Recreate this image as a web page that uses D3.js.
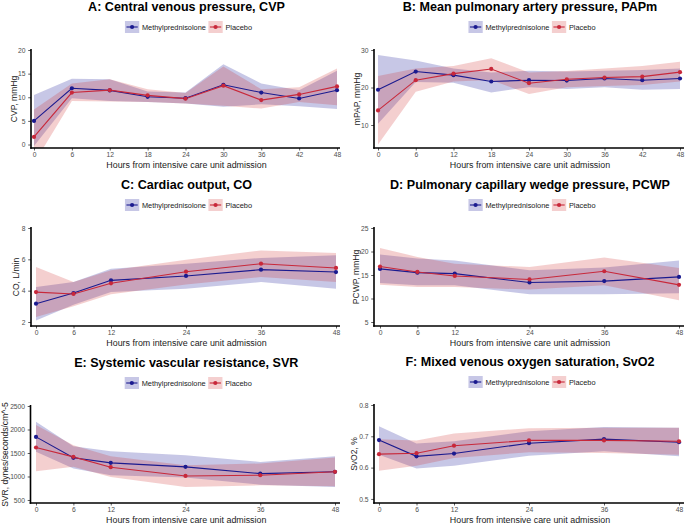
<!DOCTYPE html>
<html>
<head>
<meta charset="utf-8">
<script src="https://cdn.jsdelivr.net/npm/d3@7"></script>
<style>
html,body{margin:0;padding:0;background:#fff;}
svg{display:block;font-family:"Liberation Sans",Arial,sans-serif;}
</style>
</head>
<body>
<svg id="chart" width="685" height="524"></svg>
<script>
// ---------- data ----------
const hours9 = [0, 6, 12, 18, 24, 30, 36, 42, 48];
const hours6 = [0, 6, 12, 24, 36, 48];
const ticks9 = [0, 6, 12, 18, 24, 30, 36, 42, 48];
const ticks6 = [0, 6, 12, 24, 36, 48];
const seriesNames = ["Methylprednisolone", "Placebo"];

// A: CVP
const cvpMethyl    = [5.0, 11.9, 11.45, 10.1, 9.8, 12.65, 11.0, 9.75, 11.5];
const cvpMethylLo  = [-0.3, 9.8, 9.2, 9.0, 8.7, 8.0, 8.5, 8.1, 7.5];
const cvpMethylHi  = [10.5, 13.9, 13.8, 11.2, 11.0, 17.0, 12.9, 11.5, 15.6];
const cvpPlacebo   = [1.6, 11.0, 11.5, 10.4, 9.7, 12.45, 9.4, 10.6, 12.3];
const cvpPlaceboLo = [-4.0, 9.2, 9.1, 9.0, 8.7, 8.2, 7.6, 9.0, 8.3];
const cvpPlaceboHi = [7.4, 12.9, 13.8, 11.7, 10.9, 16.5, 11.7, 12.1, 16.1];
const cvpTicks = [0, 5, 10, 15, 20];

// B: PAPm
const papMethyl    = [19.4, 24.25, 23.3, 21.6, 21.95, 21.85, 22.4, 21.95, 22.4];
const papMethylLo  = [10.35, 21.5, 21.3, 18.7, 20.1, 19.6, 20.1, 19.4, 19.6];
const papMethylHi  = [28.7, 27.2, 25.1, 24.0, 24.5, 24.25, 24.5, 24.7, 25.1];
const papPlacebo   = [13.9, 21.95, 23.7, 24.95, 21.15, 22.2, 22.65, 22.9, 24.1];
const papPlaceboLo = [4.8, 18.9, 21.6, 22.0, 18.3, 20.1, 20.4, 20.7, 21.6];
const papPlaceboHi = [23.1, 25.1, 25.75, 27.8, 24.0, 24.4, 25.1, 25.75, 26.9];
const papTicks = [10, 20, 30];

// C: CO
const coMethyl    = [3.17, 3.85, 4.66, 4.94, 5.34, 5.19];
const coMethylLo  = [2.1, 3.1, 3.91, 4.13, 4.55, 4.13];
const coMethylHi  = [4.23, 4.55, 5.4, 5.72, 6.09, 6.26];
const coPlacebo   = [3.91, 3.79, 4.47, 5.21, 5.72, 5.45];
const coPlaceboLo = [2.32, 3.0, 3.77, 4.4, 4.87, 4.55];
const coPlaceboHi = [5.51, 4.55, 5.3, 5.98, 6.57, 6.4];
const coTicks = [2, 4, 6, 8];

// D: PCWP
const pcwpMethyl    = [16.3, 15.5, 15.3, 13.4, 13.7, 14.6];
const pcwpMethylLo  = [13.3, 12.8, 12.8, 10.9, 10.9, 11.1];
const pcwpMethylHi  = [19.35, 18.5, 18.1, 16.0, 16.6, 18.1];
const pcwpPlacebo   = [16.8, 15.65, 14.8, 14.05, 15.8, 12.9];
const pcwpPlaceboLo = [12.95, 12.45, 12.45, 11.9, 12.8, 9.65];
const pcwpPlaceboHi = [20.75, 18.85, 17.4, 16.7, 18.7, 16.5];
const pcwpTicks = [5, 10, 15, 20, 25];

// E: SVR
const svrMethyl    = [1843, 1397, 1290, 1205, 1062, 1100];
const svrMethylLo  = [1525, 1169, 1027, 977, 827, 778];
const svrMethylHi  = [2165, 1646, 1539, 1454, 1311, 1432];
const svrPlacebo   = [1617, 1418, 1198, 1012, 1027, 1100];
const svrPlaceboLo = [1112, 1205, 991, 778, 813, 792];
const svrPlaceboHi = [2094, 1667, 1432, 1240, 1276, 1404];
const svrTicks = [500, 1000, 1500, 2000, 2500];

// F: SvO2
const svoMethyl    = [0.688, 0.636, 0.645, 0.678, 0.691, 0.681];
const svoMethylLo  = [0.641, 0.597, 0.606, 0.638, 0.652, 0.636];
const svoMethylHi  = [0.732, 0.677, 0.684, 0.716, 0.730, 0.727];
const svoPlacebo   = [0.643, 0.646, 0.670, 0.687, 0.687, 0.684];
const svoPlaceboLo = [0.590, 0.606, 0.631, 0.649, 0.647, 0.641];
const svoPlaceboHi = [0.691, 0.687, 0.709, 0.726, 0.727, 0.727];
const svoTicks = [0.5, 0.6, 0.7, 0.8];

// ---------- style ----------
const lineColors = ["#1a1a8f", "#c8283a"];
const fillColors = ["#00008B", "#CD2626"];
const fillOpacity = 0.22;
const xTitle = "Hours from intensive care unit admission";
const FONT = '"Liberation Sans",Arial,sans-serif';

const svg = d3.select("#chart");
svg.append("rect").attr("width",685).attr("height",524).attr("fill","#fff");

// fit a font size so that a string has a target width
function fitSize(str, target, weight) {
  const t = svg.append("text").style("font-size", "10px").style("font-family", FONT)
    .style("font-weight", weight || "normal").text(str);
  const w = t.node().getComputedTextLength();
  t.remove();
  return 10 * target / w;
}
const titleSize = fitSize("A: Central venous pressure, CVP", 197, "bold");
const xTitleSize = fitSize(xTitle, 160.5);
const yTitleSize = fitSize("CVP, mmHg", 46.5);
const legendSize = fitSize("Methylprednisolone", 64);
const tickSize = fitSize("2500", 15);

const panels = [
  {title:"A: Central venous pressure, CVP", ylab:"CVP, mmHg", hours:hours9, xt:ticks9,
   s:[[cvpMethyl,cvpMethylLo,cvpMethylHi],[cvpPlacebo,cvpPlaceboLo,cvpPlaceboHi]],
   yd:[-0.74,20], yt:cvpTicks, fmt:d3.format("d"),
   ax:31, x0:34, x1:337, axR:340, top:50, bot:148, ylabX:16.5},
  {title:"B: Mean pulmonary artery pressure, PAPm", ylab:"mPAP, mmHg", hours:hours9, xt:ticks9,
   s:[[papMethyl,papMethylLo,papMethylHi],[papPlacebo,papPlaceboLo,papPlaceboHi]],
   yd:[3.87,30], yt:papTicks, fmt:d3.format("d"),
   ax:374, x0:378, x1:680, axR:684, top:50, bot:148, ylabX:360},
  {title:"C: Cardiac output, CO", ylab:"CO, L/min", hours:hours6, xt:ticks6,
   s:[[coMethyl,coMethylLo,coMethylHi],[coPlacebo,coPlaceboLo,coPlaceboHi]],
   yd:[1.745,8], yt:coTicks, fmt:d3.format("d"),
   ax:31, x0:36, x1:336, axR:340, top:228, bot:326, ylabX:19},
  {title:"D: Pulmonary capillary wedge pressure, PCWP", ylab:"PCWP, mmHg", hours:hours6, xt:ticks6,
   s:[[pcwpMethyl,pcwpMethylLo,pcwpMethylHi],[pcwpPlacebo,pcwpPlaceboLo,pcwpPlaceboHi]],
   yd:[4.15,25], yt:pcwpTicks, fmt:d3.format("d"),
   ax:374, x0:380, x1:679, axR:684, top:228, bot:326, ylabX:359},
  {title:"E: Systemic vascular resistance, SVR", ylab:"SVR, dynes/seconds/cm^-5", hours:hours6, xt:ticks6,
   s:[[svrMethyl,svrMethylLo,svrMethylHi],[svrPlacebo,svrPlaceboLo,svrPlaceboHi]],
   yd:[436,2500], yt:svrTicks, fmt:d3.format("d"),
   ax:30.5, x0:36, x1:335, axR:340, top:406, bot:503, ylabX:7.5},
  {title:"F: Mixed venous oxygen saturation, SvO2", ylab:"SvO2, %", hours:hours6, xt:ticks6,
   s:[[svoMethyl,svoMethylLo,svoMethylHi],[svoPlacebo,svoPlaceboLo,svoPlaceboHi]],
   yd:[0.487,0.8], yt:svoTicks, fmt:d3.format(".1f"),
   ax:374, x0:379, x1:679, axR:684, top:405, bot:503, ylabX:357}
];

panels.forEach((p, i) => {
  const g = svg.append("g");
  const x = d3.scaleLinear().domain([0,48]).range([p.x0, p.x1]);
  const y = d3.scaleLinear().domain(p.yd).range([p.bot, p.top]);
  const cx = (p.ax + p.axR) / 2 + 1;

  const cid = "clip" + i;
  svg.append("clipPath").attr("id", cid).append("rect")
    .attr("x", p.ax).attr("y", p.top - 1).attr("width", p.axR - p.ax).attr("height", p.bot - p.top + 1);
  const plot = g.append("g").attr("clip-path", `url(#${cid})`);

  p.s.forEach((ser, k) => {
    const area = d3.area().x((d, j) => x(p.hours[j])).y0((d, j) => y(ser[1][j])).y1((d, j) => y(ser[2][j]));
    plot.append("path").datum(ser[0]).attr("d", area)
      .attr("fill", fillColors[k]).attr("fill-opacity", fillOpacity);
  });
  p.s.forEach((ser, k) => {
    const line = d3.line().x((d, j) => x(p.hours[j])).y(d => y(d));
    plot.append("path").datum(ser[0]).attr("d", line)
      .attr("fill", "none").attr("stroke", lineColors[k]).attr("stroke-width", 1.1);
  });
  p.s.forEach((ser, k) => {
    plot.selectAll(null).data(ser[0]).enter().append("circle")
      .attr("cx", (d, j) => x(p.hours[j])).attr("cy", d => y(d)).attr("r", 2.1)
      .attr("fill", lineColors[k]);
  });

  const yAxis = d3.axisLeft(y).tickValues(p.yt).tickFormat(p.fmt).tickSize(2.8).tickPadding(2.6);
  const ya = g.append("g").attr("transform", `translate(${p.ax},0)`).call(yAxis);
  const xAxis = d3.axisBottom(x).tickValues(p.xt).tickFormat(d3.format("d")).tickSize(2.5).tickPadding(2);
  const xa = g.append("g").attr("transform", `translate(0,${p.bot})`).call(xAxis);
  [ya, xa].forEach(a => {
    a.select(".domain").remove();
    a.selectAll(".tick line").attr("stroke", "#333").attr("stroke-width", 0.8);
    a.selectAll(".tick text").attr("fill", "#4d4d4d").style("font-size", tickSize + "px")
      .style("font-family", FONT);
  });
  g.append("line").attr("x1", p.ax).attr("x2", p.ax).attr("y1", p.top - 1).attr("y2", p.bot + 0.8)
    .attr("stroke", "#000").attr("stroke-width", 1.6);
  g.append("line").attr("x1", p.ax - 0.8).attr("x2", p.axR).attr("y1", p.bot).attr("y2", p.bot)
    .attr("stroke", "#000").attr("stroke-width", 1.6);

  g.append("text").attr("x", cx).attr("y", p.bot + 19.7).attr("text-anchor", "middle")
    .style("font-size", xTitleSize + "px").attr("fill", "#1a1a1a").text(xTitle);
  g.append("text").attr("transform", `translate(${p.ylabX},${(p.top + p.bot) / 2}) rotate(-90)`)
    .attr("text-anchor", "middle").style("font-size", yTitleSize + "px").attr("fill", "#1a1a1a").text(p.ylab);

  g.append("text").attr("x", cx).attr("y", p.top - 39.5).attr("text-anchor", "middle")
    .style("font-size", titleSize + "px").style("font-weight", "bold").attr("fill", "#000").text(p.title);

  const leg = g.append("g");
  const ly = p.top - 23;
  let lx = 0;
  seriesNames.forEach((nm, k) => {
    const it = leg.append("g").attr("transform", `translate(${lx},0)`);
    it.append("rect").attr("x", 0).attr("y", ly - 6).attr("width", 14.3).attr("height", 12)
      .attr("fill", fillColors[k]).attr("fill-opacity", fillOpacity);
    it.append("line").attr("x1", 1.5).attr("x2", 12.8).attr("y1", ly).attr("y2", ly)
      .attr("stroke", lineColors[k]).attr("stroke-width", 1.1);
    it.append("circle").attr("cx", 7.15).attr("cy", ly).attr("r", 2.1).attr("fill", lineColors[k]);
    const t = it.append("text").attr("x", 17).attr("y", ly + 2.7).style("font-size", legendSize + "px")
      .attr("fill", "#1a1a1a").text(nm);
    lx += 17 + t.node().getComputedTextLength() + 2.5;
  });
  const lw = lx - 2.5;
  leg.attr("transform", `translate(${cx + 2 - lw / 2},0)`);
});
</script>
</body>
</html>
